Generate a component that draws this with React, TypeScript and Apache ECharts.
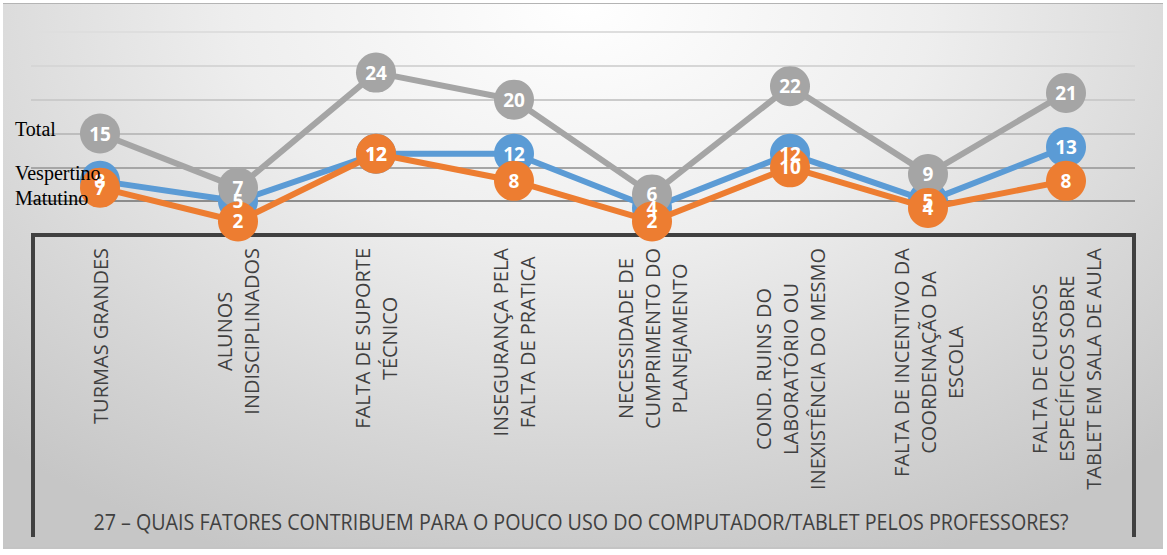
import React, { useEffect, useRef } from "react";
import * as echarts from "echarts";

const categories = [
  "TURMAS GRANDES",
  "ALUNOS\nINDISCIPLINADOS",
  "FALTA DE SUPORTE\nTÉCNICO",
  "INSEGURANÇA PELA\nFALTA DE PRATICA",
  "NECESSIDADE DE\nCUMPRIMENTO DO\nPLANEJAMENTO",
  "COND. RUINS DO\nLABORATÓRIO OU\nINEXISTÊNCIA DO MESMO",
  "FALTA DE INCENTIVO DA\nCOORDENAÇÃO DA\nESCOLA",
  "FALTA DE CURSOS\nESPECÍFICOS SOBRE\nTABLET EM SALA DE AULA",
];
const total = [15, 7, 24, 20, 6, 22, 9, 21];
const vespertino = [8, 5, 12, 12, 4, 12, 5, 13];
const matutino = [7, 2, 12, 8, 2, 10, 4, 8];
const yMin = 0;
const yMax = 30;
const yInterval = 5;
const title = "27 – QUAIS FATORES CONTRIBUEM PARA O POUCO USO DO COMPUTADOR/TABLET PELOS PROFESSORES?";

const C_TOTAL = "#a5a5a5";
const C_VESP = "#5b9bd5";
const C_MAT = "#ed7d31";

export default function App() {
  const ref = useRef<HTMLDivElement>(null);

  useEffect(() => {
    document.body.style.margin = "0";
    if (!ref.current) return;
    const chart = echarts.init(ref.current, null, { renderer: "svg" });

    const lineSeries = (name: string, data: number[], color: string, z: number) => ({
      type: "line",
      name,
      data,
      z,
      symbol: "circle",
      symbolSize: 40,
      showSymbol: true,
      lineStyle: { width: 6, color },
      itemStyle: { color },
      label: { show: false },
      emphasis: { disabled: true },
      silent: true,
    });
    const labelSeries = (name: string, data: number[]) => ({
      type: "line",
      name: name + "_lbl",
      data,
      z: 10,
      symbol: "circle",
      symbolSize: 40,
      lineStyle: { width: 0, opacity: 0 },
      itemStyle: { color: "rgba(0,0,0,0)" },
      label: {
        show: true,
        position: "inside",
        color: "#ffffff",
        fontFamily: "Open Sans",
        fontWeight: "bold",
        fontSize: 19,
      },
      emphasis: { disabled: true },
      silent: true,
    });

    chart.setOption({
      animation: false,
      grid: { left: 31, right: 32, top: 32, bottom: 320 },
      xAxis: {
        type: "category",
        data: categories,
        boundaryGap: true,
        axisLine: { show: false },
        axisTick: { show: false },
        axisLabel: { show: false },
      },
      yAxis: {
        type: "value",
        min: yMin,
        max: yMax,
        interval: yInterval,
        axisLine: { show: false },
        axisTick: { show: false },
        axisLabel: { show: false },
        splitLine: {
          show: true,
          lineStyle: {
            width: 2,
            color: ["#404040", "#8c8c8c", "#a6a6a6", "#bdbdbd", "#cbcbcb", "#d6d6d6", "#dedede"],
          },
        },
      },
      series: [
        lineSeries("Vespertino", vespertino, C_VESP, 2),
        lineSeries("Total", total, C_TOTAL, 3),
        lineSeries("Matutino", matutino, C_MAT, 4),
        labelSeries("Vespertino", vespertino),
        labelSeries("Total", total),
        labelSeries("Matutino", matutino),
      ],
    });

    const labelFont = "20px 'Open Sans'";
    const canvas = document.createElement("canvas");
    const ctx = canvas.getContext("2d");
    const measure = (s: string) => {
      if (!ctx) return s.length * 12;
      ctx.font = labelFont;
      return ctx.measureText(s).width;
    };

    const px = (i: number, v: number) =>
      chart.convertToPixel({ gridIndex: 0 }, [i, v]) as number[];

    const zero = px(0, 0);
    const graphics: any[] = [];

    graphics.push({
      type: "polyline",
      z: 1,
      silent: true,
      shape: {
        points: [
          [33, 537],
          [33, zero[1]],
          [1134, zero[1]],
          [1134, 537],
        ],
      },
      style: { stroke: "#404040", lineWidth: 4, fill: null },
    });

    categories.forEach((cat, i) => {
      const p = px(i, 0);
      const lines = cat.split("\n");
      const maxW = Math.max(...lines.map(measure));
      graphics.push({
        type: "text",
        z: 5,
        silent: true,
        x: p[0],
        y: zero[1] + 13 + maxW / 2,
        rotation: Math.PI / 2,
        style: {
          text: cat,
          font: labelFont,
          fill: "#404040",
          align: "center",
          verticalAlign: "middle",
          textAlign: "center",
          textVerticalAlign: "middle",
          lineHeight: 27,
        },
      });
    });

    graphics.push({
      type: "text",
      z: 5,
      silent: true,
      x: 581,
      y: 522,
      scaleX: 0.895,
      style: {
        text: title,
        font: "22px 'Open Sans'",
        fill: "#404040",
        align: "center",
        verticalAlign: "middle",
        textAlign: "center",
        textVerticalAlign: "middle",
      },
    });

    const names: [string, number[], number][] = [
      ["Total", total, -5],
      ["Vespertino", vespertino, -8],
      ["Matutino", matutino, 10],
    ];
    names.forEach(([n, d, off]) => {
      const p = px(0, d[0]);
      graphics.push({
        type: "text",
        z: 20,
        silent: true,
        x: 15,
        y: p[1] + off,
        style: {
          text: n,
          font: "20px 'Liberation Serif'",
          fill: "#000000",
          align: "left",
          verticalAlign: "middle",
          textAlign: "left",
          textVerticalAlign: "middle",
        },
      });
    });

    chart.setOption({ graphic: graphics });

    return () => chart.dispose();
  }, []);

  return (
    <div style={{ position: "relative", width: 1167, height: 555, background: "#ffffff", overflow: "hidden" }}>
      <div
        style={{
          position: "absolute",
          left: 3,
          top: 3,
          width: 1160,
          height: 546,
          boxSizing: "border-box",
          borderTop: "1px solid #b4b4b4",
          borderBottom: "2px solid #c4c4c4",
          background:
            "radial-gradient(ellipse 75% 110% at 50% 0%, #ffffff 0%, #eeeeee 40%, #d6d6d6 75%, #c6c6c6 100%)",
        }}
      />
      <div ref={ref} style={{ position: "absolute", left: 0, top: 0, width: 1167, height: 555 }} />
    </div>
  );
}
